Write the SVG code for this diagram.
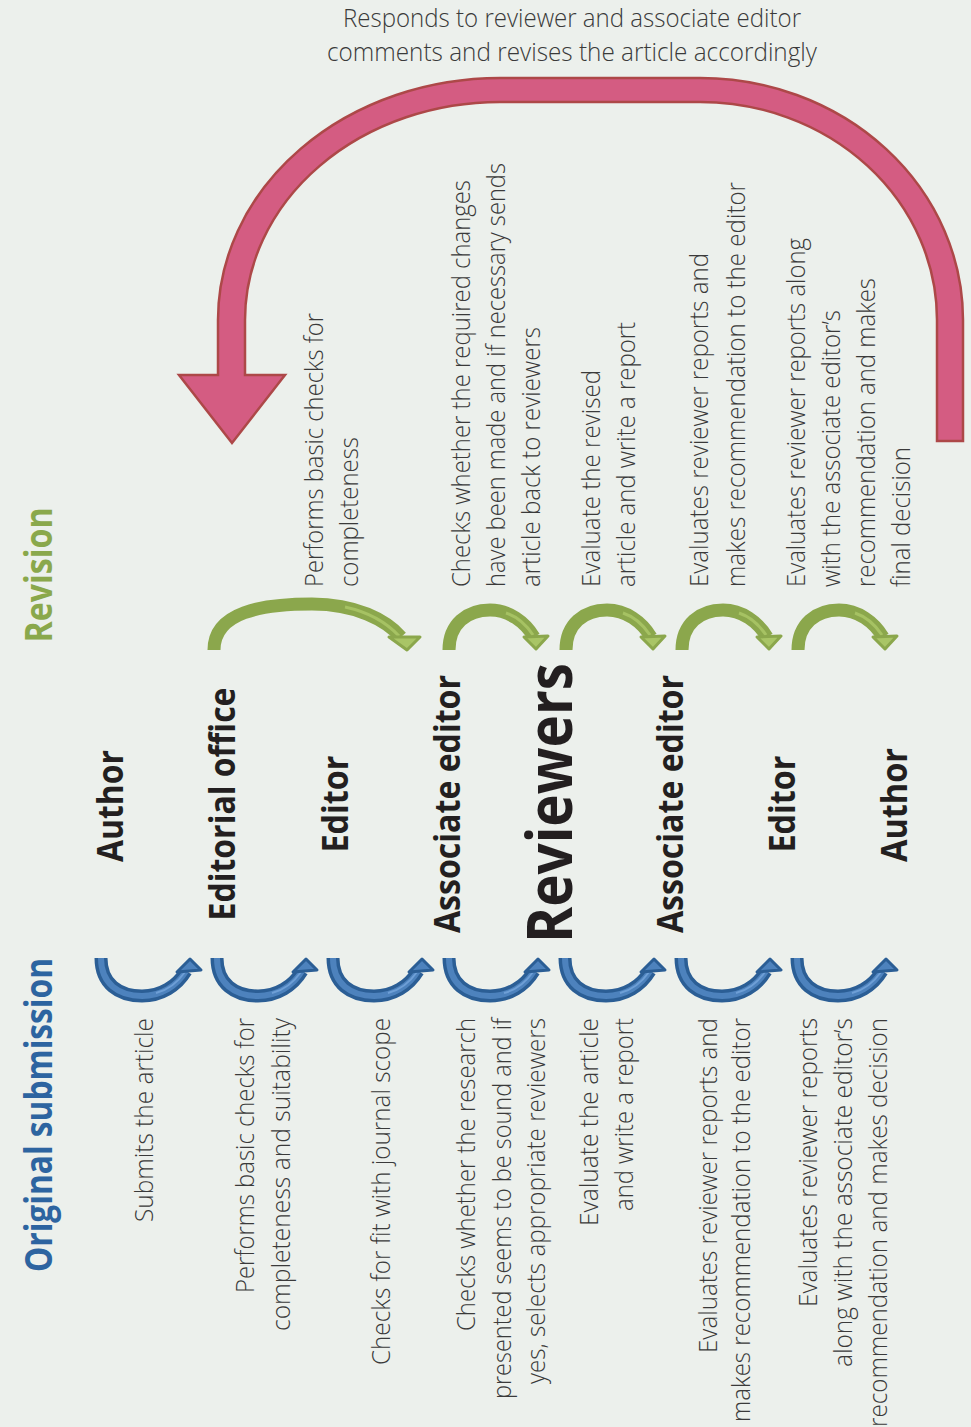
<svg xmlns="http://www.w3.org/2000/svg" xmlns:xlink="http://www.w3.org/1999/xlink" width="971" height="1427" viewBox="0 0 971 1427">
<style>
.bg{fill:#ecf0ec}
.desc{font-family:"Open Sans","Noto Sans","Liberation Sans",sans-serif;font-weight:300;font-size:26px;fill:#3a3a3a}
.role{font-family:"Open Sans","Noto Sans","Liberation Sans",sans-serif;font-weight:700;font-size:36px;fill:#231f20}
.big{font-size:62px}
.phase{font-family:"Open Sans","Noto Sans","Liberation Sans",sans-serif;font-weight:700;font-size:37px}
.end{text-anchor:end}
.mid{text-anchor:middle}
.bShaft{fill:none;stroke:#2b5e95;stroke-width:13}
.bHi{fill:none;stroke:#4d82bd;stroke-width:6}
.bHi2{fill:none;stroke:#6e9fd6;stroke-width:2}
.bHead{fill:#4d82bd;stroke:#2b5e95;stroke-width:3;stroke-linejoin:round}
.gShaft{fill:none;stroke:#8ba74c;stroke-width:13}
.gHi{fill:none;stroke:#a6c263;stroke-width:3}
.gHead{fill:#a9c566;stroke:#8ba74c;stroke-width:3;stroke-linejoin:round}
.pink{fill:#d45c82;stroke:#ad4848;stroke-width:2.5;stroke-linejoin:miter}
</style>
<defs>
<g id="blueArrow">
<path class="bShaft" d="M7,0 C7,26 25,38 48,38 C67,38 83,28 92,13"/>
<path class="bHi" d="M7,0 C7,26 25,38 48,38 C67,38 83,28 92,13"/>
<path class="bHi2" d="M62,35 C74,32 84,24 91,14"/>
<polygon class="bHead" points="96,1 107,12 83,14"/>
</g>
<g id="greenArrow">
<path class="gShaft" d="M7,0 C7,-26 25,-40 48,-40 C67,-40 83,-28 92,-13"/>
<path class="gHi" d="M64,-37 C76,-33 85,-24 91,-15"/>
<polygon class="gHead" points="94,-1 106,-14 82,-13"/>
</g>
</defs>
<rect class="bg" x="0" y="0" width="971" height="1427"/>

<g id="connectors">
<g id="revision-loop">
<path class="pink" d="M218,375 L218,320 A282,242 0 0 1 500,78 L700,78 A263,242 0 0 1 963,320 L963,441 L937,441 L937,320 A237,218 0 0 0 700,102 L500,102 A255,218 0 0 0 245,320 L245,375 L285,375 L232,443 L179,375 Z"/>
</g>
<g id="original-arrows">
<use xlink:href="#blueArrow" transform="translate(94,958)"/>
<use xlink:href="#blueArrow" transform="translate(210,958)"/>
<use xlink:href="#blueArrow" transform="translate(326,958)"/>
<use xlink:href="#blueArrow" transform="translate(442,958)"/>
<use xlink:href="#blueArrow" transform="translate(558,958)"/>
<use xlink:href="#blueArrow" transform="translate(674,958)"/>
<use xlink:href="#blueArrow" transform="translate(790,958)"/>
</g>
<g id="revision-arrows">
<path class="gShaft" d="M214,650 C214,612 262,604 312,604 C356,604 386,620 401,637"/>
<path class="gHi" d="M345,607 C368,612 386,622 399,636"/>
<polygon class="gHead" points="407,650 420,637 389,637"/>
<use xlink:href="#greenArrow" transform="translate(442,650)"/>
<use xlink:href="#greenArrow" transform="translate(559,650)"/>
<use xlink:href="#greenArrow" transform="translate(675,650)"/>
<use xlink:href="#greenArrow" transform="translate(791,650)"/>
</g>
</g>

<g id="phase-original">
<text class="phase mid" fill="#2d64a0" transform="translate(52,1115) rotate(-90)" textLength="314" lengthAdjust="spacingAndGlyphs">Original submission</text>
</g>
<g id="phase-revision">
<text class="phase mid" fill="#8aa84c" transform="translate(52,575) rotate(-90)" textLength="135" lengthAdjust="spacingAndGlyphs">Revision</text>
</g>

<g id="top-note">
<text class="desc mid" x="572" y="27" textLength="458" lengthAdjust="spacingAndGlyphs">Responds to reviewer and associate editor</text>
<text class="desc mid" x="572" y="61" textLength="490" lengthAdjust="spacingAndGlyphs">comments and revises the article accordingly</text>
</g>

<g id="node-author-1">
<text class="role mid" transform="translate(123,806) rotate(-90)" textLength="112" lengthAdjust="spacingAndGlyphs">Author</text>
<text class="desc end" transform="translate(153,1018) rotate(-90)" textLength="204" lengthAdjust="spacingAndGlyphs">Submits the article</text>
</g>
<g id="node-editorial-office">
<text class="role mid" transform="translate(235,804) rotate(-90)" textLength="233" lengthAdjust="spacingAndGlyphs">Editorial office</text>
<text class="desc end" transform="translate(254,1018) rotate(-90)" textLength="275" lengthAdjust="spacingAndGlyphs">Performs basic checks for</text>
<text class="desc end" transform="translate(290,1018) rotate(-90)" textLength="313" lengthAdjust="spacingAndGlyphs">completeness and suitability</text>
<text class="desc" transform="translate(323,587) rotate(-90)" textLength="274" lengthAdjust="spacingAndGlyphs">Performs basic checks for</text>
<text class="desc" transform="translate(358,587) rotate(-90)" textLength="150" lengthAdjust="spacingAndGlyphs">completeness</text>
</g>
<g id="node-editor-1">
<text class="role mid" transform="translate(348,804) rotate(-90)" textLength="97" lengthAdjust="spacingAndGlyphs">Editor</text>
<text class="desc end" transform="translate(390,1018) rotate(-90)" textLength="347" lengthAdjust="spacingAndGlyphs">Checks for fit with journal scope</text>
</g>
<g id="node-associate-editor-1">
<text class="role mid" transform="translate(460,804) rotate(-90)" textLength="258" lengthAdjust="spacingAndGlyphs">Associate editor</text>
<text class="desc end" transform="translate(475,1018) rotate(-90)" textLength="313" lengthAdjust="spacingAndGlyphs">Checks whether the research</text>
<text class="desc end" transform="translate(511,1018) rotate(-90)" textLength="381" lengthAdjust="spacingAndGlyphs">presented seems to be sound and if</text>
<text class="desc end" transform="translate(545,1018) rotate(-90)" textLength="366" lengthAdjust="spacingAndGlyphs">yes, selects appropriate reviewers</text>
<text class="desc" transform="translate(470,587) rotate(-90)" textLength="407" lengthAdjust="spacingAndGlyphs">Checks whether the required changes</text>
<text class="desc" transform="translate(505,587) rotate(-90)" textLength="424" lengthAdjust="spacingAndGlyphs">have been made and if necessary sends</text>
<text class="desc" transform="translate(540,587) rotate(-90)" textLength="260" lengthAdjust="spacingAndGlyphs">article back to reviewers</text>
</g>
<g id="node-reviewers">
<text class="role big mid" transform="translate(572,803) rotate(-90)" textLength="280" lengthAdjust="spacingAndGlyphs">Reviewers</text>
<text class="desc end" transform="translate(598,1018) rotate(-90)" textLength="208" lengthAdjust="spacingAndGlyphs">Evaluate the article</text>
<text class="desc end" transform="translate(633,1018) rotate(-90)" textLength="193" lengthAdjust="spacingAndGlyphs">and write a report</text>
<text class="desc" transform="translate(600,587) rotate(-90)" textLength="217" lengthAdjust="spacingAndGlyphs">Evaluate the revised</text>
<text class="desc" transform="translate(635,587) rotate(-90)" textLength="265" lengthAdjust="spacingAndGlyphs">article and write a report</text>
</g>
<g id="node-associate-editor-2">
<text class="role mid" transform="translate(683,804) rotate(-90)" textLength="258" lengthAdjust="spacingAndGlyphs">Associate editor</text>
<text class="desc end" transform="translate(717,1018) rotate(-90)" textLength="335" lengthAdjust="spacingAndGlyphs">Evaluates reviewer reports and</text>
<text class="desc end" transform="translate(750,1018) rotate(-90)" textLength="404" lengthAdjust="spacingAndGlyphs">makes recommendation to the editor</text>
<text class="desc" transform="translate(708,587) rotate(-90)" textLength="334" lengthAdjust="spacingAndGlyphs">Evaluates reviewer reports and</text>
<text class="desc" transform="translate(745,587) rotate(-90)" textLength="405" lengthAdjust="spacingAndGlyphs">makes recommendation to the editor</text>
</g>
<g id="node-editor-2">
<text class="role mid" transform="translate(795,804) rotate(-90)" textLength="97" lengthAdjust="spacingAndGlyphs">Editor</text>
<text class="desc end" transform="translate(817,1018) rotate(-90)" textLength="289" lengthAdjust="spacingAndGlyphs">Evaluates reviewer reports</text>
<text class="desc end" transform="translate(852,1018) rotate(-90)" textLength="349" lengthAdjust="spacingAndGlyphs">along with the associate editor’s</text>
<text class="desc end" transform="translate(887,1018) rotate(-90)" textLength="409" lengthAdjust="spacingAndGlyphs">recommendation and makes decision</text>
<text class="desc" transform="translate(805,587) rotate(-90)" textLength="349" lengthAdjust="spacingAndGlyphs">Evaluates reviewer reports along</text>
<text class="desc" transform="translate(840,587) rotate(-90)" textLength="277" lengthAdjust="spacingAndGlyphs">with the associate editor’s</text>
<text class="desc" transform="translate(875,587) rotate(-90)" textLength="309" lengthAdjust="spacingAndGlyphs">recommendation and makes</text>
<text class="desc" transform="translate(910,587) rotate(-90)" textLength="140" lengthAdjust="spacingAndGlyphs">final decision</text>
</g>
<g id="node-author-2">
<text class="role mid" transform="translate(907,805) rotate(-90)" textLength="114" lengthAdjust="spacingAndGlyphs">Author</text>
</g>
</svg>
